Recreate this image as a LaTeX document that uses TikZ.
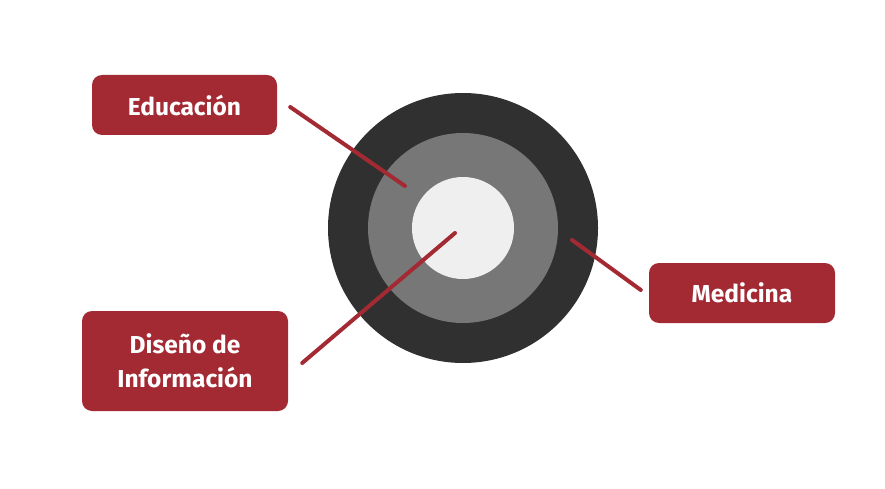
\documentclass[tikz,border=0pt]{standalone}
\usepackage{fontspec}
\setmainfont{Fira Sans}
\usepackage{tikz}
\usetikzlibrary{positioning,calc}
\definecolor{wine}{HTML}{A32A33}
\definecolor{ringdark}{HTML}{303030}
\definecolor{ringmid}{HTML}{777777}
\definecolor{ringlight}{HTML}{EFEFEF}

\begin{document}
\begin{tikzpicture}[
    x=1pt, y=-1pt,
    label box/.style={
        fill=wine,
        text=white,
        rounded corners=10pt,
        align=center,
        inner sep=0pt,
        font=\bfseries\fontsize{24.5}{34}\selectfont
        },
    ring/.style={circle, inner sep=0pt}
    ]
    \useasboundingbox (0,0) rectangle (885,489);

    % rings
    \node[ring, fill=ringdark,  minimum size=270pt] (outer) at (463,228) {};
    \node[ring, fill=ringmid,   minimum size=190pt] (middle) at (outer.center) {};
    \node[ring, fill=ringlight, minimum size=102pt] (inner) at (outer.center) {};

    % labels
    \node[label box, minimum width=185pt, minimum height=60pt] (edu) at (184.5,105) {Educación};
    \node[label box, minimum width=186pt, minimum height=60pt] (med) at (742,293) {Medicina};
    \node[label box, minimum width=206pt, minimum height=100pt] (info) at (185,361) {Diseño de\\Información};

    % ends of the connectors
    \coordinate (edu end)  at (405,186);
    \coordinate (med end)  at (572,240);
    \coordinate (info end) at (455,233);

    \path[draw=wine, line width=4pt, line cap=round]
    ($(edu.east)+(13,2)$) edge (edu end)
    ($(med.west)+(-8,-3)$) edge (med end)
    ($(info.east)+(14,2)$) edge (info end)
    ;
\end{tikzpicture}
\end{document}
